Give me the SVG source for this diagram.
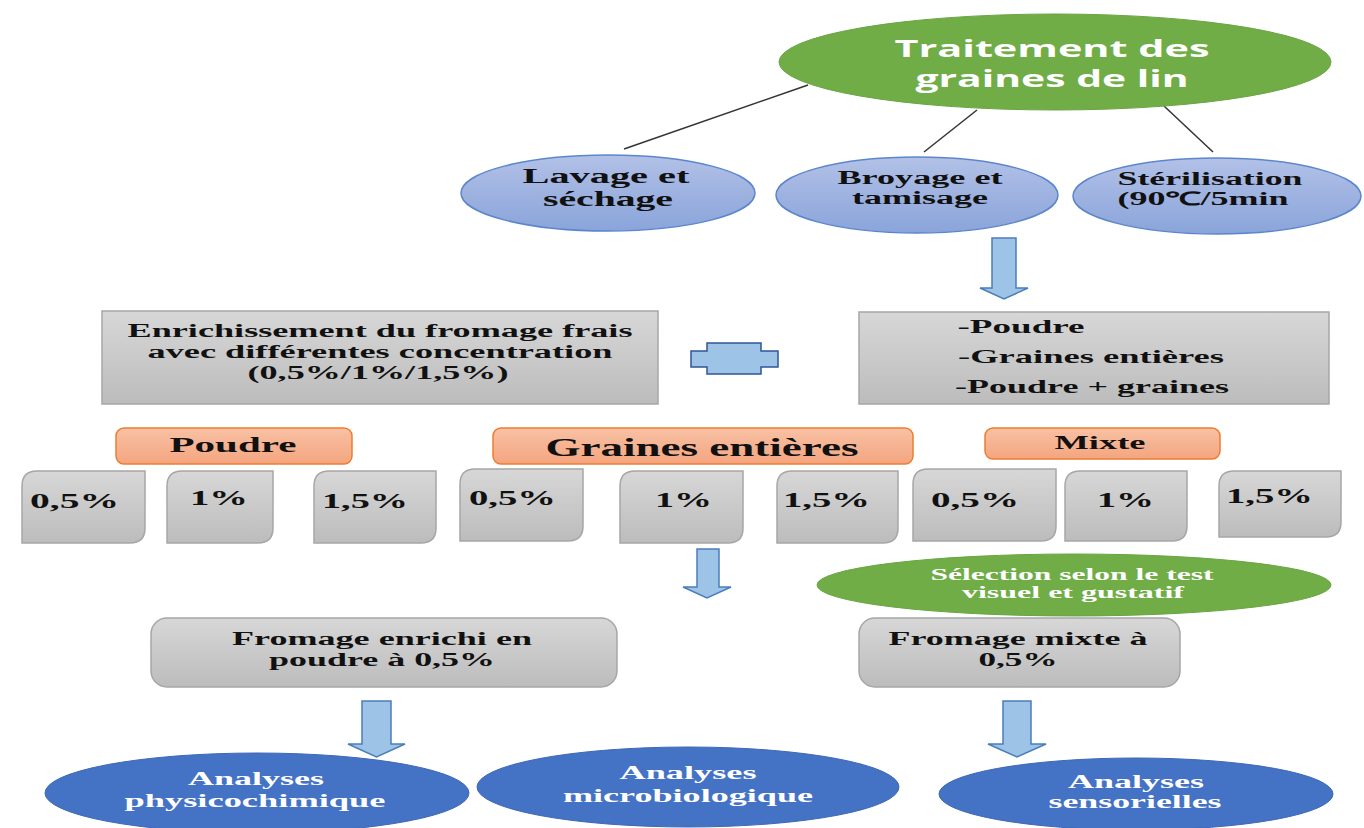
<svg xmlns="http://www.w3.org/2000/svg" width="1364" height="828" viewBox="0 0 1364 828">
<defs>
<linearGradient id="gBlue" x1="0" y1="0" x2="0" y2="1"><stop offset="0" stop-color="#b2c1e7"/><stop offset="1" stop-color="#8aa4da"/></linearGradient>
<linearGradient id="gGray" x1="0" y1="0" x2="0" y2="1"><stop offset="0" stop-color="#d7d7d7"/><stop offset="1" stop-color="#bcbcbc"/></linearGradient>
<linearGradient id="gOrange" x1="0" y1="0" x2="0" y2="1"><stop offset="0" stop-color="#f8c1a4"/><stop offset="1" stop-color="#f4a57f"/></linearGradient>
</defs>
<style>
.green{fill:#70ad47;stroke:#6aa542;stroke-width:1}
.lblue{fill:url(#gBlue);stroke:#5b86cc;stroke-width:1.5}
.dblue{fill:#4472c4;stroke:#4068b5;stroke-width:1}
.gray{fill:url(#gGray);stroke:#a6a6a6;stroke-width:1.5}
.orange{fill:url(#gOrange);stroke:#ed7d31;stroke-width:1.5}
.arrow{fill:#9dc3e6;stroke:#4a7ebb;stroke-width:1.5}
.line{stroke:#333;stroke-width:1.5;fill:none}
.s{font-family:"Liberation Serif","Times New Roman",serif;font-weight:bold;fill:#111}
.w{fill:#fff}
.t{font-family:"Open Sans","Liberation Sans",sans-serif;font-weight:bold;fill:#fff}
text{text-anchor:middle}
</style>
<rect width="1364" height="828" fill="#fff"/>

<g id="connectors">
<line class="line" x1="808" y1="85" x2="624" y2="149"/>
<line class="line" x1="977" y1="110" x2="924" y2="152"/>
<line class="line" x1="1164" y1="106" x2="1213" y2="152"/>
<polygon class="arrow" points="992,238 1016,238 1016,288 1028,288 1004,299 980,288 992,288"/>
<polygon class="arrow" points="697,549 719,549 719,587 731,587 707,598 683,587 697,587"/>
<polygon class="arrow" points="362,701 391,701 391,744 405,744 376.5,757 348,744 362,744"/>
<polygon class="arrow" points="1003,701 1031,701 1031,744 1046,744 1017,757 988,744 1003,744"/>
</g>

<g id="traitement">
<ellipse class="green" cx="1055" cy="62" rx="276" ry="48"/>
<text class="t" x="1052" y="57" font-size="23" textLength="315" lengthAdjust="spacingAndGlyphs">Traitement des</text>
<text class="t" x="1052" y="87" font-size="23" textLength="273" lengthAdjust="spacingAndGlyphs">graines de lin</text>
</g>

<g id="lavage">
<ellipse class="lblue" cx="608" cy="193" rx="147" ry="38"/>
<text class="s" x="606" y="183" font-size="21" textLength="167" lengthAdjust="spacingAndGlyphs">Lavage et</text>
<text class="s" x="608" y="206" font-size="21" textLength="130" lengthAdjust="spacingAndGlyphs">séchage</text>
</g>

<g id="broyage">
<ellipse class="lblue" cx="917" cy="195" rx="141" ry="38"/>
<text class="s" x="920" y="184" font-size="18" textLength="165" lengthAdjust="spacingAndGlyphs">Broyage et</text>
<text class="s" x="920" y="204" font-size="18" textLength="136" lengthAdjust="spacingAndGlyphs">tamisage</text>
</g>

<g id="sterilisation">
<ellipse class="lblue" cx="1217" cy="196" rx="144" ry="38"/>
<text class="s" x="1210" y="185" font-size="18.5" textLength="185" lengthAdjust="spacingAndGlyphs">Stérilisation</text>
<text class="s" x="1203" y="205" font-size="18.5" textLength="171" lengthAdjust="spacingAndGlyphs">(90℃/5min</text>
</g>

<g id="enrichissement">
<rect class="gray" x="102" y="311" width="556" height="93"/>
<text class="s" x="380" y="337" font-size="18" textLength="505" lengthAdjust="spacingAndGlyphs">Enrichissement du fromage frais</text>
<text class="s" x="380" y="358" font-size="18" textLength="465" lengthAdjust="spacingAndGlyphs">avec différentes concentration</text>
<text class="s" x="378" y="379" font-size="18" textLength="261" lengthAdjust="spacingAndGlyphs">(0,5%/1%/1,5%)</text>
</g>

<g id="plus">
<polygon fill="#9dc3e6" stroke="#2f5597" stroke-width="1.5" points="707,343 761,343 761,351 778,351 778,367 761,367 761,374 707,374 707,367 691,367 691,351 707,351"/>
</g>

<g id="formes">
<rect class="gray" x="859" y="312" width="470" height="92"/>
<text class="s" x="1021" y="333" font-size="19" textLength="127" lengthAdjust="spacingAndGlyphs">-Poudre</text>
<text class="s" x="1091" y="363" font-size="19" textLength="266" lengthAdjust="spacingAndGlyphs">-Graines entières</text>
<text class="s" x="1092" y="393" font-size="19" textLength="274" lengthAdjust="spacingAndGlyphs">-Poudre + graines</text>
</g>

<g id="cat-poudre">
<rect class="orange" x="116" y="428" width="236" height="36" rx="8"/>
<text class="s" x="233" y="452" font-size="22" textLength="127" lengthAdjust="spacingAndGlyphs">Poudre</text>
</g>
<g id="cat-graines">
<rect class="orange" x="493" y="428" width="420" height="36" rx="8"/>
<text class="s" x="702" y="456" font-size="25" textLength="313" lengthAdjust="spacingAndGlyphs">Graines entières</text>
</g>
<g id="cat-mixte">
<rect class="orange" x="985" y="428" width="235" height="31" rx="8"/>
<text class="s" x="1100" y="449" font-size="19.5" textLength="91" lengthAdjust="spacingAndGlyphs">Mixte</text>
</g>

<g id="p1"><path class="gray" d="M37,471 H145 V528 Q145,543 130,543 H22 V486 Q22,471 37,471 Z"/><text class="s" x="74.5" y="508" font-size="21" textLength="89" lengthAdjust="spacingAndGlyphs">0,5%</text></g>
<g id="p2"><path class="gray" d="M182,471 H273 V528 Q273,543 258,543 H167 V486 Q167,471 182,471 Z"/><text class="s" x="219" y="505" font-size="21" textLength="58" lengthAdjust="spacingAndGlyphs">1%</text></g>
<g id="p3"><path class="gray" d="M329,471 H436 V528 Q436,543 421,543 H314 V486 Q314,471 329,471 Z"/><text class="s" x="365" y="508" font-size="21" textLength="86" lengthAdjust="spacingAndGlyphs">1,5%</text></g>
<g id="p4"><path class="gray" d="M475,469 H583 V526 Q583,541 568,541 H460 V484 Q460,469 475,469 Z"/><text class="s" x="512.5" y="505" font-size="21" textLength="87" lengthAdjust="spacingAndGlyphs">0,5%</text></g>
<g id="p5"><path class="gray" d="M635,471 H743 V528 Q743,543 728,543 H620 V486 Q620,471 635,471 Z"/><text class="s" x="683.5" y="507" font-size="21" textLength="57" lengthAdjust="spacingAndGlyphs">1%</text></g>
<g id="p6"><path class="gray" d="M792,471 H898 V528 Q898,543 883,543 H777 V486 Q777,471 792,471 Z"/><text class="s" x="826.5" y="507" font-size="21" textLength="87" lengthAdjust="spacingAndGlyphs">1,5%</text></g>
<g id="p7"><path class="gray" d="M928,469 H1056 V526 Q1056,541 1041,541 H913 V484 Q913,469 928,469 Z"/><text class="s" x="975" y="507" font-size="21" textLength="88" lengthAdjust="spacingAndGlyphs">0,5%</text></g>
<g id="p8"><path class="gray" d="M1080,471 H1187 V526 Q1187,541 1172,541 H1065 V486 Q1065,471 1080,471 Z"/><text class="s" x="1125.5" y="507" font-size="21" textLength="57" lengthAdjust="spacingAndGlyphs">1%</text></g>
<g id="p9"><path class="gray" d="M1234,471 H1341 V522 Q1341,537 1326,537 H1219 V486 Q1219,471 1234,471 Z"/><text class="s" x="1269.5" y="503" font-size="21" textLength="87" lengthAdjust="spacingAndGlyphs">1,5%</text></g>

<g id="selection">
<ellipse class="green" cx="1074" cy="585" rx="257" ry="31"/>
<text class="s w" x="1072" y="580" font-size="16.5" textLength="283" lengthAdjust="spacingAndGlyphs">Sélection selon le test</text>
<text class="s w" x="1073" y="598" font-size="16.5" textLength="222" lengthAdjust="spacingAndGlyphs">visuel et gustatif</text>
</g>

<g id="fromage-poudre">
<rect class="gray" x="151" y="618" width="466" height="69" rx="16"/>
<text class="s" x="382" y="645" font-size="18" textLength="300" lengthAdjust="spacingAndGlyphs">Fromage enrichi en</text>
<text class="s" x="382" y="666" font-size="18" textLength="226" lengthAdjust="spacingAndGlyphs">poudre à 0,5%</text>
</g>

<g id="fromage-mixte">
<rect class="gray" x="859" y="618" width="321" height="69" rx="16"/>
<text class="s" x="1018" y="645" font-size="18" textLength="259" lengthAdjust="spacingAndGlyphs">Fromage mixte à</text>
<text class="s" x="1018" y="666" font-size="18" textLength="79" lengthAdjust="spacingAndGlyphs">0,5%</text>
</g>

<g id="physico">
<ellipse class="dblue" cx="257" cy="793" rx="212" ry="40"/>
<text class="s w" x="256" y="785" font-size="18" textLength="136" lengthAdjust="spacingAndGlyphs">Analyses</text>
<text class="s w" x="255" y="807" font-size="18" textLength="261" lengthAdjust="spacingAndGlyphs">physicochimique</text>
</g>
<g id="micro">
<ellipse class="dblue" cx="688" cy="787" rx="211" ry="40"/>
<text class="s w" x="688" y="779" font-size="18" textLength="137" lengthAdjust="spacingAndGlyphs">Analyses</text>
<text class="s w" x="688" y="802" font-size="18" textLength="250" lengthAdjust="spacingAndGlyphs">microbiologique</text>
</g>
<g id="sensoriel">
<ellipse class="dblue" cx="1136" cy="794" rx="197" ry="36"/>
<text class="s w" x="1136" y="788" font-size="18" textLength="136" lengthAdjust="spacingAndGlyphs">Analyses</text>
<text class="s w" x="1135" y="808" font-size="18" textLength="173" lengthAdjust="spacingAndGlyphs">sensorielles</text>
</g>
</svg>
